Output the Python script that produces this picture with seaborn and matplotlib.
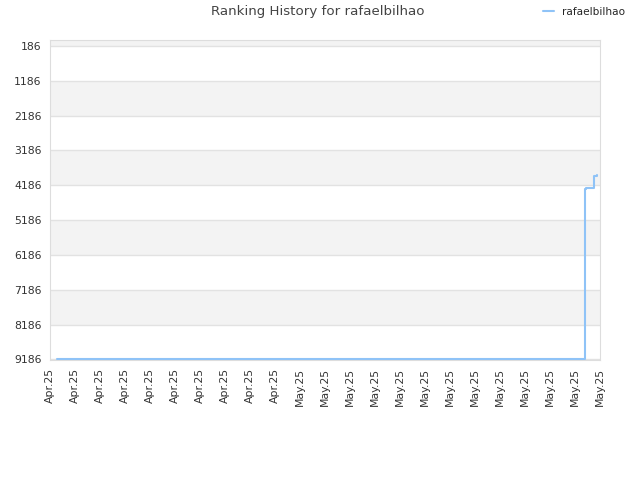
import pandas as pd
import numpy as np
import matplotlib
matplotlib.use("Agg")
import matplotlib.pyplot as plt
import matplotlib.dates as mdates
import seaborn as sns

# data
user = "rafaelbilhao"
times = ["2025-04-06 16:48", "2025-05-29 10:48", "2025-05-29 14:24",
         "2025-05-30 08:24", "2025-05-30 16:48"]
ranks = [9186, 4300, 4270, 3930, 3900]
y_ticks = [186, 1186, 2186, 3186, 4186, 5186, 6186, 7186, 8186, 9186]
x_labels = ["Apr.25"] * 10 + ["May.25"] * 13
x_start = "2025-04-06"
x_end = "2025-05-31"

df = pd.DataFrame({"time": pd.to_datetime(times), "rank": ranks, "user": user})

sns.set_style("white")
plt.rcParams["font.family"] = ["DejaVu Sans"]

fig = plt.figure(figsize=(6.4, 4.8), dpi=100)
ax = fig.add_axes([50 / 640, 1 - 360 / 480, 550 / 640, 320 / 480])

# alternating bands
band_edges = [y_ticks[0] - 1000] + y_ticks
for i in range(len(band_edges) - 1):
    if i % 2 == 0:
        ax.axhspan(band_edges[i], band_edges[i + 1], color="#f3f3f3", zorder=0, lw=0)

sns.lineplot(data=df, x="time", y="rank", hue="user", palette=["#8fc3f7"],
             drawstyle="steps-post", linewidth=1.5, ax=ax, legend=False, zorder=3)

x0 = mdates.date2num(pd.Timestamp(x_start))
x1 = mdates.date2num(pd.Timestamp(x_end))
ax.set_xlim(x0, x1)
ax.set_ylim(9205, 15)
ax.set_yticks(y_ticks)
ax.set_yticklabels([str(v) for v in y_ticks], fontsize=7.8, color="#333333")
ax.set_xticks(np.linspace(x0, x1, len(x_labels)))
ax.set_xticklabels(x_labels, rotation=90, fontsize=7.8, color="#333333")
ax.tick_params(length=0, pad=6)
ax.grid(axis="y", color="#e2e2e2", linewidth=1)
ax.set_axisbelow(True)
ax.set_xlabel("")
ax.set_ylabel("")
for s in ax.spines.values():
    s.set_color("#dddddd")

fig.text(0.497, 0.975, f"Ranking History for {user}", ha="center", va="center",
         fontsize=9.6, color="#444444")
fig.legend(handles=[plt.Line2D([], [], color="#8fc3f7", lw=1.5)], labels=[user],
           loc="center", bbox_to_anchor=(0.913, 0.975), frameon=False,
           fontsize=7.6, handlelength=1.0, handletextpad=0.8)

fig.savefig("out.png", dpi=100)
